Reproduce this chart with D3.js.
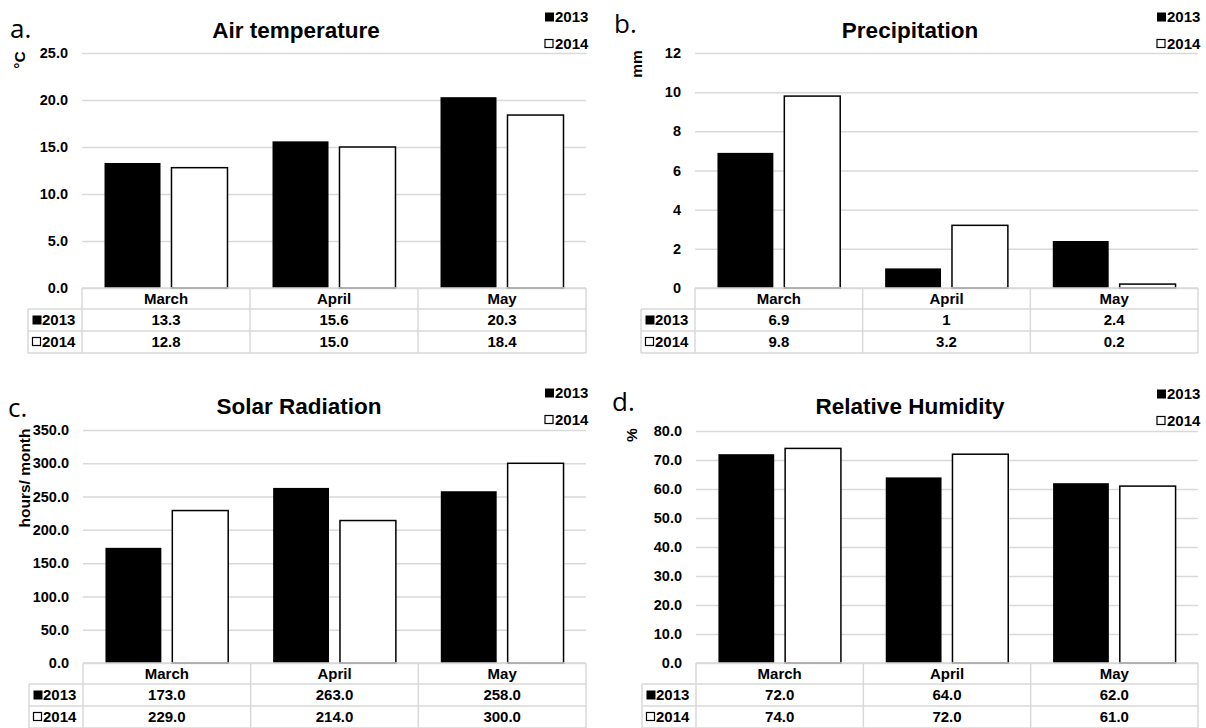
<!DOCTYPE html>
<html>
<head>
<script src="https://cdnjs.cloudflare.com/ajax/libs/d3/7.8.5/d3.min.js"></script>
<style>
  body { margin: 0; background: #fff; }
  text { font-family: "Liberation Sans", Arial, sans-serif; }
</style>
</head>
<body>
<script>
// data
var months = ["March", "April", "May"];
var years = ["2013", "2014"];

var air2013 = [13.3, 15.6, 20.3];
var air2014 = [12.8, 15.0, 18.4];
var airTicks = [0, 5, 10, 15, 20, 25];

var precip2013 = [6.9, 1, 2.4];
var precip2014 = [9.8, 3.2, 0.2];
var precipTicks = [0, 2, 4, 6, 8, 10, 12];

var solar2013 = [173, 263, 258];
var solar2014 = [229, 214, 300];
var solarTicks = [0, 50, 100, 150, 200, 250, 300, 350];

var rh2013 = [72, 64, 62];
var rh2014 = [74, 72, 61];
var rhTicks = [0, 10, 20, 30, 40, 50, 60, 70, 80];

var grid = "#d9d9d9";
var fix1 = function(d) { return d.toFixed(1); };
var general = function(d) { return String(d); };

var svg = d3.select("body").append("svg")
  .attr("width", 1206)
  .attr("height", 728);

function drawPanel(p) {
  var g = svg.append("g");

  var y = d3.scaleLinear()
    .domain([0, d3.max(p.ticks)])
    .range([p.y0, p.yTop]);

  var x0 = d3.scaleBand()
    .domain(months)
    .range([p.left, p.right]);

  var x1 = d3.scaleBand()
    .domain(years)
    .range([0, x0.bandwidth()])
    .paddingInner(0.164)
    .paddingOuter(0.336);

  // gridlines + tick labels
  var ax = g.append("g")
    .attr("transform", "translate(" + p.left + ",0)")
    .call(d3.axisLeft(y)
      .tickValues(p.ticks)
      .tickSize(-(p.right - p.left))
      .tickPadding(14)
      .tickFormat(p.tickFmt));
  ax.select(".domain").remove();
  ax.selectAll(".tick line").attr("stroke", grid).attr("stroke-width", 1.5);
  ax.selectAll(".tick text")
    .attr("fill", "#000")
    .style("font-size", "14.5px")
    .style("font-weight", "bold")
    .style("font-family", "'Liberation Sans', Arial, sans-serif");

  // bars
  var series = [p.s2013, p.s2014];
  series.forEach(function(vals, si) {
    g.selectAll(null)
      .data(vals)
      .enter()
      .append("rect")
      .attr("x", function(d, i) { return x0(months[i]) + x1(years[si]); })
      .attr("y", function(d) { return y(d); })
      .attr("width", x1.bandwidth())
      .attr("height", function(d) { return p.y0 - y(d); })
      .attr("fill", si == 0 ? "#000" : "#fff")
      .attr("stroke", "#000")
      .attr("stroke-width", si == 0 ? 0 : 1.5);
  });

  // data table under the plot
  var hH = 21, rH = 22;
  var tl = p.left - 54;
  var t = g.append("g");
  var lines = [
    [p.left, p.y0, p.right, p.y0],
    [p.left, p.y0 + hH, p.right, p.y0 + hH],
    [tl, p.y0 + hH, p.left, p.y0 + hH],
    [tl, p.y0 + hH + rH, p.right, p.y0 + hH + rH],
    [tl, p.y0 + hH + 2 * rH, p.right, p.y0 + hH + 2 * rH],
    [tl, p.y0 + hH, tl, p.y0 + hH + 2 * rH],
    [p.left, p.y0, p.left, p.y0 + hH + 2 * rH]
  ];
  months.forEach(function(m) {
    var xr = x0(m) + x0.bandwidth();
    lines.push([xr, p.y0, xr, p.y0 + hH + 2 * rH]);
  });
  t.selectAll("line")
    .data(lines)
    .enter()
    .append("line")
    .attr("x1", function(d) { return d[0]; })
    .attr("y1", function(d) { return d[1]; })
    .attr("x2", function(d) { return d[2]; })
    .attr("y2", function(d) { return d[3]; })
    .attr("stroke", grid)
    .attr("stroke-width", 1.5);

  var cellText = function(sel) {
    sel.attr("text-anchor", "middle")
      .attr("dy", "0.35em")
      .style("font-size", "15px")
      .style("font-weight", "bold");
  };

  t.selectAll("text.head")
    .data(months)
    .enter()
    .append("text")
    .attr("class", "head")
    .attr("x", function(d) { return x0(d) + x0.bandwidth() / 2; })
    .attr("y", p.y0 + hH / 2)
    .text(function(d) { return d; })
    .call(cellText);

  series.forEach(function(vals, si) {
    var cy = p.y0 + hH + rH * si + rH / 2;
    t.append("rect")
      .attr("x", tl + 4.5)
      .attr("y", cy - 4.5)
      .attr("width", si == 0 ? 9 : 8)
      .attr("height", si == 0 ? 9 : 8)
      .attr("fill", si == 0 ? "#000" : "#fff")
      .attr("stroke", "#000")
      .attr("stroke-width", si == 0 ? 0 : 1.2);
    t.append("text")
      .attr("x", tl + 14)
      .attr("y", cy)
      .attr("dy", "0.35em")
      .style("font-size", "15px")
      .style("font-weight", "bold")
      .text(years[si]);
    t.selectAll(null)
      .data(vals)
      .enter()
      .append("text")
      .attr("x", function(d, i) { return x0(months[i]) + x0.bandwidth() / 2; })
      .attr("y", cy)
      .text(p.cellFmt)
      .call(cellText);
  });

  // title, letter, axis label
  g.append("text")
    .attr("x", p.titleX)
    .attr("y", p.titleY)
    .attr("text-anchor", "middle")
    .style("font-size", "22.5px")
    .style("font-weight", "bold")
    .text(p.title);

  g.append("text")
    .attr("x", p.letterX)
    .attr("y", p.letterY)
    .style("font-family", "'Open Sans', sans-serif")
    .style("font-size", "26px")
    .text(p.letter);

  g.append("text")
    .attr("transform", "translate(" + p.unitX + "," + p.unitY + ") rotate(-90)")
    .attr("text-anchor", "middle")
    .attr("dy", "0.35em")
    .style("font-size", "15.5px")
    .style("font-weight", "bold")
    .text(p.unit);

  // legend top right
  years.forEach(function(yr, si) {
    var ly = p.legY + si * 27;
    g.append("rect")
      .attr("x", p.right - 41)
      .attr("y", ly - 4.5)
      .attr("width", si == 0 ? 9 : 8)
      .attr("height", si == 0 ? 9 : 8)
      .attr("fill", si == 0 ? "#000" : "#fff")
      .attr("stroke", "#000")
      .attr("stroke-width", si == 0 ? 0 : 1.2);
    g.append("text")
      .attr("x", p.right - 31)
      .attr("y", ly)
      .attr("dy", "0.35em")
      .style("font-size", "15px")
      .style("font-weight", "bold")
      .text(yr);
  });
}

drawPanel({
  s2013: air2013, s2014: air2014, ticks: airTicks, tickFmt: fix1, cellFmt: fix1,
  left: 82, right: 586, yTop: 53, y0: 288,
  title: "Air temperature", titleX: 296, titleY: 38,
  letter: "a.", letterX: 10, letterY: 38,
  unit: "°C", unitX: 20, unitY: 60, legY: 17
});

drawPanel({
  s2013: precip2013, s2014: precip2014, ticks: precipTicks, tickFmt: d3.format("d"), cellFmt: general,
  left: 695, right: 1198, yTop: 53, y0: 288,
  title: "Precipitation", titleX: 910, titleY: 38,
  letter: "b.", letterX: 614, letterY: 33,
  unit: "mm", unitX: 637, unitY: 64, legY: 17
});

drawPanel({
  s2013: solar2013, s2014: solar2014, ticks: solarTicks, tickFmt: fix1, cellFmt: fix1,
  left: 83, right: 586, yTop: 430, y0: 663,
  title: "Solar Radiation", titleX: 299, titleY: 414,
  letter: "c.", letterX: 8, letterY: 417,
  unit: "hours/ month", unitX: 25, unitY: 478, legY: 393
});

drawPanel({
  s2013: rh2013, s2014: rh2014, ticks: rhTicks, tickFmt: fix1, cellFmt: fix1,
  left: 696, right: 1198, yTop: 431, y0: 663,
  title: "Relative Humidity", titleX: 910, titleY: 414,
  letter: "d.", letterX: 612, letterY: 411,
  unit: "%", unitX: 632, unitY: 435, legY: 394
});
</script>
</body>
</html>
